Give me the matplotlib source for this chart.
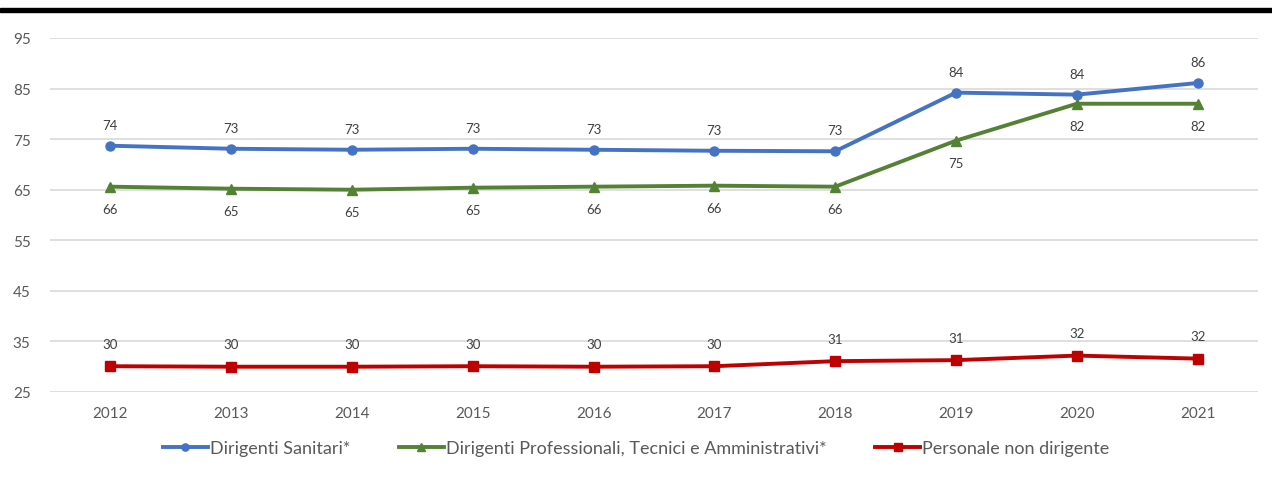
import matplotlib
matplotlib.use('Agg')
import matplotlib.pyplot as plt
from matplotlib.patches import Rectangle

plt.rcParams['font.family'] = ['Lato', 'DejaVu Sans']

anni = ['2012', '2013', '2014', '2015', '2016', '2017', '2018', '2019', '2020', '2021']
dirigenti_sanitari = [73.7, 73.1, 72.9, 73.1, 72.9, 72.7, 72.6, 84.2, 83.8, 86.1]
dirigenti_pta = [65.6, 65.2, 65.0, 65.4, 65.6, 65.8, 65.6, 74.7, 82.0, 82.0]
personale_non_dirigente = [30.1, 30.0, 30.0, 30.1, 30.0, 30.1, 31.1, 31.3, 32.2, 31.6]

serie = [
    ('Dirigenti Sanitari*', dirigenti_sanitari, '#4472C4', 'o', 15),
    ('Dirigenti Professionali, Tecnici e Amministrativi*', dirigenti_pta, '#548235', '^', -16),
    ('Personale non dirigente', personale_non_dirigente, '#C00000', 's', 16),
]

fig = plt.figure(figsize=(12.72, 4.81), dpi=100)
ax = fig.add_axes([50 / 1272, 1 - 393 / 481, 1208 / 1272, 354 / 481])

x = list(range(len(anni)))
for nome, valori, colore, marker, off in serie:
    ax.plot(x, valori, color=colore, lw=2.8, marker=marker, ms=6.5,
            label=nome, solid_joinstyle='round')
    for xi, v in zip(x, valori):
        ax.annotate(f'{round(v)}', (xi, v), xytext=(0, off), textcoords='offset points',
                    ha='center', va='center', fontsize=9.5, color='#404040')

ax.set_xlim(-0.5, len(anni) - 0.5)
ax.set_ylim(25, 95)
ax.set_yticks(range(25, 96, 10))
ax.set_xticks(x)
ax.set_xticklabels(anni)
ax.tick_params(length=0, labelsize=11, colors='#595959')
ax.tick_params(axis='y', pad=14)
ax.tick_params(axis='x', pad=10)
ax.grid(axis='y', color='#D9D9D9', lw=1.2)
ax.set_axisbelow(True)
for s in ax.spines.values():
    s.set_visible(False)

fig.legend(*ax.get_legend_handles_labels(), loc='center', bbox_to_anchor=(0.5, 1 - 449 / 481),
           ncol=3, frameon=False, fontsize=13, handlelength=2.5, handletextpad=0.1,
           columnspacing=2.7, labelcolor='#595959', markerscale=0.8)

# barra nera in alto
fig.patches.append(Rectangle((0, 1 - 13 / 481), 1, 4 / 481, transform=fig.transFigure,
                             color='black', zorder=5))

fig.savefig('out.png', dpi=100)
